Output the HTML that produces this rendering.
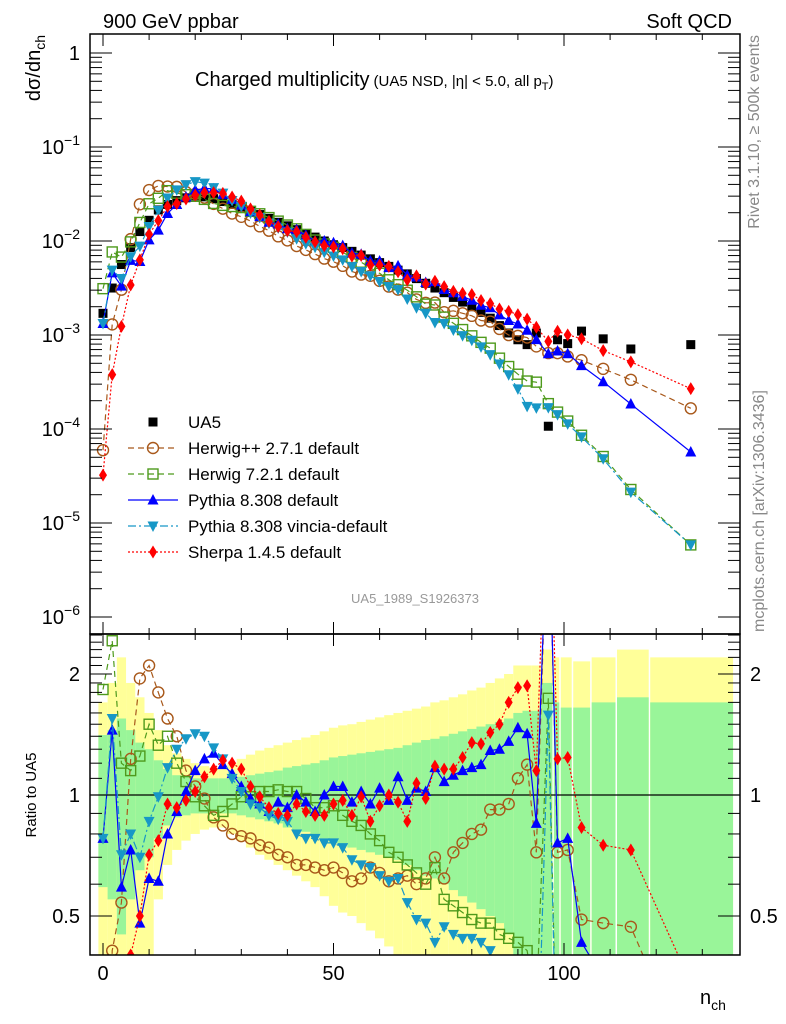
<!DOCTYPE html>
<html><head><meta charset="utf-8"><title>Charged multiplicity</title>
<style>
html,body{margin:0;padding:0;background:#fff;overflow:hidden;width:786px;height:1024px;}
svg{display:block;font-family:"Liberation Sans",Arial,sans-serif;}
</style></head>
<body>
<svg id="chart" xmlns="http://www.w3.org/2000/svg" width="786" height="1024" viewBox="0 0 786 1024">
<defs>
<clipPath id="clipMain"><rect x="90" y="34" width="650" height="600"/></clipPath>
<clipPath id="clipRatio"><rect x="90" y="634" width="650" height="321"/></clipPath>
</defs>
<rect x="0" y="0" width="786" height="1024" fill="#fff"/>
<g id="bands" clip-path="url(#clipRatio)"></g>
<line x1="90" y1="795" x2="740" y2="795" stroke="#000" stroke-width="1.2"/>
<g id="mainSeries" clip-path="url(#clipMain)"></g>
<g id="ratioSeries" clip-path="url(#clipRatio)"></g>
<g id="axes"></g>
<rect x="90" y="34" width="650" height="600" fill="none" stroke="#000" stroke-width="1.5"/>
<rect x="90" y="634" width="650" height="321" fill="none" stroke="#000" stroke-width="1.5"/>

<text x="103" y="28" font-size="20">900 GeV ppbar</text>
<text x="732" y="28" font-size="20" text-anchor="end">Soft QCD</text>
<text x="195" y="86" font-size="20">Charged multiplicity<tspan font-size="15" dx="4">(UA5 NSD, |η| &lt; 5.0, all p</tspan><tspan font-size="11" dy="4">T</tspan><tspan font-size="15" dy="-4">)</tspan></text>
<text transform="translate(40,35) rotate(-90)" font-size="20" text-anchor="end">dσ/dn<tspan font-size="14" dy="5">ch</tspan></text>
<text transform="translate(36,795) rotate(-90)" font-size="15" text-anchor="middle">Ratio to UA5</text>
<text transform="translate(759,35) rotate(-90)" font-size="16" fill="#888" text-anchor="end">Rivet 3.1.10, ≥ 500k events</text>
<text transform="translate(764,632) rotate(-90)" font-size="16" fill="#888" text-anchor="start">mcplots.cern.ch [arXiv:1306.3436]</text>
<text x="415" y="603" font-size="13" fill="#999" text-anchor="middle">UA5_1989_S1926373</text>
<text x="700" y="1004" font-size="20">n<tspan font-size="14" dy="6">ch</tspan></text>

<g id="legend"></g>
</svg>
<script>
// ---- data ----
const nVals = [0,2,4,6,8,10,12,14,16,18,20,22,24,26,28,30,32,34,36,38,40,42,44,46,48,50,52,54,56,58,60,62,64,66,68,70,72,74,76,78,80,82,84,86,88,90,92,94,96.6,98.6,100.8,103.8,108.5,114.5,127.5];
const binLo = [-1,1,3,5,7,9,11,13,15,17,19,21,23,25,27,29,31,33,35,37,39,41,43,45,47,49,51,53,55,57,59,61,63,65,67,69,71,73,75,77,79,81,83,85,87,89,91,93,95,97.8,99.3,102,106,111.5,118.7];
const binHi = [1,3,5,7,9,11,13,15,17,19,21,23,25,27,29,31,33,35,37,39,41,43,45,47,49,51,53,55,57,59,61,63,65,67,69,71,73,75,77,79,81,83,85,87,89,91,93,95,97.8,99.3,102,106,111.5,118.7,137];
const ua5 = [1.70e-3,3.16e-3,5.62e-3,8.51e-3,1.26e-2,1.66e-2,2.14e-2,2.45e-2,2.69e-2,2.88e-2,3.02e-2,2.95e-2,2.82e-2,2.63e-2,2.45e-2,2.29e-2,2.09e-2,1.91e-2,1.74e-2,1.58e-2,1.45e-2,1.32e-2,1.20e-2,1.10e-2,1.00e-2,9.12e-3,8.51e-3,7.76e-3,7.08e-3,6.46e-3,5.89e-3,5.37e-3,4.90e-3,4.47e-3,3.98e-3,3.55e-3,3.16e-3,2.82e-3,2.51e-3,2.24e-3,2.00e-3,1.74e-3,1.51e-3,1.26e-3,1.05e-3,8.9e-4,7.9e-4,1.05e-3,1.07e-4,8.9e-4,8.1e-4,1.10e-3,9.1e-4,7.1e-4,7.9e-4];
const statErr = [.41,.45,.55,.45,.35,.3,.22,.16,.12,.11,.1,.1,.1,.1,.1,.11,.12,.13,.14,.15,.17,.18,.19,.2,.22,.24,.25,.26,.27,.28,.29,.3,.31,.33,.35,.37,.38,.4,.42,.44,.46,.48,.5,.52,.55,.6,.62,.62,.9,.7,.65,.65,.7,.75,.7];
const totErr = [.7,.9,1.2,.9,.75,.6,.45,.33,.27,.23,.2,.18,.17,.17,.2,.23,.26,.29,.31,.33,.35,.37,.39,.41,.44,.47,.49,.5,.52,.54,.56,.58,.6,.62,.64,.66,.7,.72,.75,.78,.82,.85,.9,.95,1.0,1.1,1.1,1.1,1.3,1.2,1.2,1.15,1.2,1.3,1.2];
const ratioHerwigpp = [0.035,0.41,0.54,1.23,1.95,2.1,1.8,1.55,1.4,1.15,1.05,0.98,0.88,0.84,0.80,0.79,0.78,0.75,0.74,0.71,0.70,0.67,0.67,0.66,0.65,0.66,0.64,0.61,0.62,0.66,0.64,0.61,0.62,0.63,0.60,0.62,0.70,0.62,0.72,0.76,0.80,0.82,0.92,0.92,0.95,1.10,1.19,0.72,6.0,0.72,0.73,0.49,0.48,0.47,0.21];
const ratioHerwig7 = [1.83,2.42,1.2,1.15,1.25,1.5,1.33,1.40,1.20,1.08,0.99,0.94,0.89,0.91,0.95,0.99,0.99,1.02,1.02,1.03,1.02,1.02,0.98,0.93,0.93,0.94,0.89,0.86,0.84,0.80,0.77,0.72,0.70,0.67,0.64,0.60,0.66,0.55,0.53,0.51,0.49,0.48,0.48,0.45,0.44,0.43,0.41,0.30,1.74,0.17,0.15,0.078,0.056,0.032,0.0074];
const ratioPythia = [0.78,1.45,0.59,0.73,0.48,0.62,0.61,0.80,0.91,1.02,1.15,1.23,1.27,1.19,1.13,1.05,0.98,0.95,0.91,0.96,0.93,1.0,0.96,0.91,1.0,1.05,1.05,0.96,1.02,0.95,1.04,0.97,1.11,0.97,1.04,1.02,1.17,1.08,1.12,1.15,1.17,1.19,1.29,1.30,1.36,1.47,1.42,0.85,5.9,0.76,0.78,0.43,0.35,0.26,0.072];
const ratioVincia = [0.78,1.55,0.71,0.80,0.70,0.86,0.99,1.17,1.30,1.38,1.42,1.40,1.31,1.23,1.10,1.02,0.95,0.93,0.89,0.87,0.86,0.80,0.78,0.78,0.76,0.76,0.74,0.69,0.67,0.66,0.63,0.61,0.62,0.54,0.49,0.48,0.43,0.47,0.45,0.44,0.44,0.43,0.41,0.39,0.36,0.30,0.22,0.16,1.58,0.16,0.14,0.075,0.053,0.030,0.0074];
const ratioSherpa = [0.019,0.12,0.22,0.40,0.50,0.71,0.77,0.95,0.93,0.97,1.02,1.11,1.16,1.22,1.20,1.16,1.05,0.99,0.93,0.90,0.89,0.95,0.91,0.89,0.89,0.95,0.97,0.89,0.99,0.86,0.94,1.0,0.96,0.86,1.07,0.98,1.18,1.16,1.16,1.24,1.35,1.34,1.43,1.50,1.70,1.85,1.87,1.15,8.0,1.23,1.24,0.83,0.75,0.73,0.34];
const xTicks = [0,50,100];
const mainYTicks = [0,-1,-2,-3,-4,-5,-6];
const ratioTicks = [0.5,1,2];
const ratioTickLabels = ["0.5","1","2"];
const seriesNames = ["Herwig++ 2.7.1 default","Herwig 7.2.1 default","Pythia 8.308 default","Pythia 8.308 vincia-default","Sherpa 1.4.5 default"];

// ---- scales ----
const NS="http://www.w3.org/2000/svg";
function X(n){return 103+4.61*n;}
function YM(v){return 53-94*Math.log10(v);}
function YR(r){return 795-121*Math.log2(r);}
function mk(tag,attrs,parent){const e=document.createElementNS(NS,tag);for(const k in attrs)e.setAttribute(k,attrs[k]);parent.appendChild(e);return e;}

// split a polyline into segments clipped at a lower ratio limit (in log space)
function clipRuns(xs,rs,rmin){
  const runs=[];let cur=[];
  for(let i=0;i<xs.length;i++){
    const inside=rs[i]>=rmin;
    if(i>0){
      const pin=rs[i-1]>=rmin;
      if(pin!==inside){
        const a=Math.log(rs[i-1]),b=Math.log(rs[i]),t=(Math.log(rmin)-a)/(b-a);
        const xc=xs[i-1]+t*(xs[i]-xs[i-1]);
        cur.push([xc,rmin]);
        if(pin){runs.push(cur);cur=[];}
      }
    }
    if(inside)cur.push([xs[i],rs[i]]);
  }
  if(cur.length)runs.push(cur);
  return runs;
}

const bands=document.getElementById('bands');
const mainG=document.getElementById('mainSeries');
const ratioG=document.getElementById('ratioSeries');
const axes=document.getElementById('axes');
const legend=document.getElementById('legend');

// bands
for(let i=0;i<nVals.length;i++){
  const gap = i>=48 ? 1.5 : 0;
  const x1=X(binLo[i]), x2=X(binHi[i])-gap;
  const ylo=Math.max(1-totErr[i],0.38);
  const yhi=Math.min(1+totErr[i],2.6);
  const ry=mk('rect',{x:x1,y:YR(yhi),width:x2-x1,height:YR(ylo)-YR(yhi),fill:'#ffff99'},bands);
  
  
}
for(let i=0;i<nVals.length;i++){
  const gap = i>=48 ? 1.5 : 0;
  const x1=X(binLo[i]), x2=X(binHi[i])-gap;
  const slo=Math.max(1-statErr[i],0.38);
  const shi=Math.min(1+statErr[i],2.6);
  const rg=mk('rect',{x:x1,y:YR(shi),width:x2-x1,height:YR(slo)-YR(shi),fill:'#99f599'},bands);
  
  
}

function marker(g,type,x,y,color){
  let e;
  if(type==='sq') e=mk('rect',{x:x-4.5,y:y-4.5,width:9,height:9,fill:'#000'},g);
  else if(type==='circ') e=mk('circle',{cx:x,cy:y,r:5.5,fill:'none',stroke:color,'stroke-width':1.4},g);
  else if(type==='osq') e=mk('rect',{x:x-5,y:y-5,width:10,height:10,fill:'none',stroke:color,'stroke-width':1.4},g);
  else if(type==='tup') e=mk('path',{d:`M${x},${y-6}L${x+5.5},${y+4.5}L${x-5.5},${y+4.5}Z`,fill:color},g);
  else if(type==='tdn') e=mk('path',{d:`M${x},${y+6}L${x+5.5},${y-4.5}L${x-5.5},${y-4.5}Z`,fill:color},g);
  else e=mk('path',{d:`M${x},${y-6.5}L${x+4},${y}L${x},${y+6.5}L${x-4},${y}Z`,fill:color},g);
  return e;
}

const series=[
  {ratio:ratioHerwigpp,color:'#a8581a',dash:'6,4',m:'circ',key:'herwigpp'},
  {ratio:ratioHerwig7,color:'#4e9a1c',dash:'6,4',m:'osq',key:'herwig7'},
  {ratio:ratioPythia,color:'#0000ff',dash:'',m:'tup',key:'pythia'},
  {ratio:ratioVincia,color:'#1797c6',dash:'8,3,2,3',m:'tdn',key:'vincia'},
  {ratio:ratioSherpa,color:'#ff0000',dash:'2,2',m:'dia',key:'sherpa'}
];

for(let i=0;i<nVals.length;i++){
  const y=YM(ua5[i]);
  if(y<34||y>634) continue;
  const d=marker(mainG,'sq',X(nVals[i]),y,'#000');
  
  
}

series.forEach(s=>{
  const mv=nVals.map((n,i)=>ua5[i]*s.ratio[i]);
  const pm=nVals.map((n,i)=>X(n).toFixed(1)+','+YM(mv[i]).toFixed(1)).join(' ');
  const lm=mk('polyline',{points:pm,fill:'none',stroke:s.color,'stroke-width':1.2,'stroke-dasharray':s.dash},mainG);
  
  
  for(let i=0;i<nVals.length;i++){
    const y=YM(mv[i]); if(y<34||y>634) continue;
    const p=marker(mainG,s.m,X(nVals[i]),y,s.color);
    
    
  }
  const runs=clipRuns(nVals,s.ratio,0.38);
  runs.forEach(run=>{
    if(run.length<2) return;
    const pr=run.map(p=>X(p[0]).toFixed(1)+','+YR(p[1]).toFixed(1)).join(' ');
    const lr=mk('polyline',{points:pr,fill:'none',stroke:s.color,'stroke-width':1.2,'stroke-dasharray':s.dash},ratioG);
    
    
  });
  for(let i=0;i<nVals.length;i++){
    const y=YR(s.ratio[i]); if(y<634||y>955) continue;
    const p=marker(ratioG,s.m,X(nVals[i]),y,s.color);
    
    
  }
});

for(let t=0;t<=130;t+=10){
  const major=(t%50===0), L=major?12:6, x=X(t);
  [[34,1],[634,-1],[634,1],[955,-1]].forEach(([y0,dir])=>{
    const tk=mk('line',{x1:x,y1:y0,x2:x,y2:y0+dir*L,stroke:'#000','stroke-width':1},axes);
    
    
  });
}
xTicks.forEach(t=>{
  const lb=mk('text',{x:X(t),y:980,'font-size':20,'text-anchor':'middle'},axes);
  lb.textContent=String(t);
  
  
});
for(let d=0;d>=-6;d--){
  for(let k=1;k<10;k++){
    const v=k*Math.pow(10,d), y=YM(v);
    if(y<34||y>634) continue;
    const L=(k===1)?22:12;
    [[90,1],[740,-1]].forEach(([x0,dir])=>{
      const tk=mk('line',{x1:x0,y1:y,x2:x0+dir*L,y2:y,stroke:'#000','stroke-width':1},axes);
      
      
    });
  }
}
mainYTicks.forEach(d=>{
  const y=YM(Math.pow(10,d));
  const lb=mk('text',{x:80,y:y+7,'font-size':20,'text-anchor':'end'},axes);
  if(d===0){lb.textContent='1';}
  else{
    lb.textContent='10';
    const sup=document.createElementNS(NS,'tspan');
    sup.setAttribute('font-size','14');sup.setAttribute('dy','-9');
    sup.textContent='−'+(-d);
    lb.appendChild(sup);
  }
  
  
});
const rtv=[0.4,0.5,0.6,0.7,0.8,0.9,1.0,1.1,1.2,1.3,1.4,1.5,1.6,1.7,1.8,1.9,2.0,2.1,2.2,2.3,2.4,2.5];
rtv.forEach(v=>{
  const y=YR(v); if(y<634||y>955) return;
  const major=(Math.abs(v-0.5)<1e-6||Math.abs(v-1)<1e-6||Math.abs(v-2)<1e-6);
  const L=major?22:12;
  [[90,1],[740,-1]].forEach(([x0,dir])=>{
    const tk=mk('line',{x1:x0,y1:y,x2:x0+dir*L,y2:y,stroke:'#000','stroke-width':1},axes);
    
    
  });
});
ratioTicks.forEach((v,i)=>{
  const y=YR(v);
  const l=mk('text',{x:80,y:y+7,'font-size':20,'text-anchor':'end'},axes);
  l.textContent=ratioTickLabels[i];
  
  
  const r=mk('text',{x:750,y:y+7,'font-size':20,'text-anchor':'start'},axes);
  r.textContent=ratioTickLabels[i];
  
  
});

const ly=[422,448,474,500,526,552];
const ua5m=marker(legend,'sq',153,ly[0],'#000');


const ua5t=mk('text',{x:188,y:ly[0]+6,'font-size':17},legend);
ua5t.textContent='UA5';


series.forEach((s,i)=>{
  const y=ly[i+1];
  const ln=mk('line',{x1:128,y1:y,x2:178,y2:y,stroke:s.color,'stroke-width':1.2,'stroke-dasharray':s.dash},legend);
  
  
  const m=marker(legend,s.m,153,y,s.color);
  
  
  const t=mk('text',{x:188,y:y+6,'font-size':17},legend);
  t.textContent=seriesNames[i];
  
  
});
</script>
</body></html>
